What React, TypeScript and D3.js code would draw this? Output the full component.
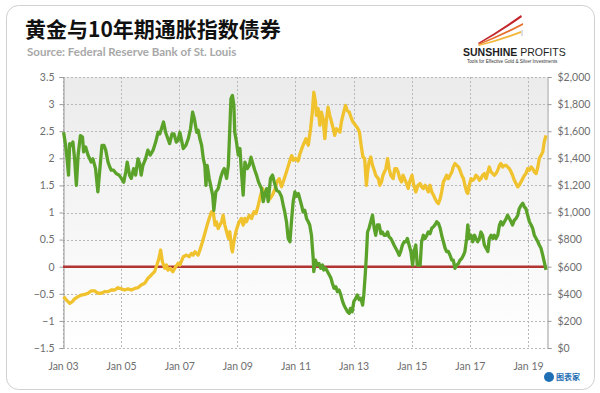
import React, { useEffect, useRef } from "react";
import * as d3 from "d3";

// 10-year TIPS yield (%), left axis. x = decimal year
const tipsYears = [
  2003.02, 2003.09, 2003.14, 2003.19, 2003.23, 2003.29, 2003.34, 2003.4, 2003.46, 2003.52, 2003.6, 2003.67,
  2003.71, 2003.78, 2003.86, 2003.97, 2004.03, 2004.12, 2004.2, 2004.26, 2004.34, 2004.41, 2004.47, 2004.55,
  2004.61, 2004.66, 2004.74, 2004.83, 2004.93, 2005.01, 2005.09, 2005.16, 2005.21, 2005.29, 2005.35, 2005.43,
  2005.5, 2005.58, 2005.64, 2005.69, 2005.75, 2005.84, 2005.92, 2006.0, 2006.1, 2006.19, 2006.27, 2006.33,
  2006.39, 2006.46, 2006.53, 2006.61, 2006.67, 2006.75, 2006.82, 2006.9, 2006.96,
  2007.02, 2007.14, 2007.23, 2007.31, 2007.39, 2007.46, 2007.52, 2007.6, 2007.65, 2007.71, 2007.77, 2007.83,
  2007.88, 2007.92, 2007.96, 2008.03, 2008.08, 2008.15, 2008.19, 2008.26, 2008.34, 2008.42, 2008.49, 2008.55,
  2008.63, 2008.69, 2008.74, 2008.78, 2008.83, 2008.88, 2008.91, 2008.97, 2009.03, 2009.09, 2009.14, 2009.2,
  2009.26, 2009.34, 2009.41, 2009.47, 2009.55, 2009.6, 2009.66, 2009.73, 2009.78, 2009.83, 2009.89, 2009.95,
  2010.01, 2010.06, 2010.14, 2010.21, 2010.27, 2010.35, 2010.44, 2010.52, 2010.58, 2010.63, 2010.69, 2010.75,
  2010.81, 2010.87, 2010.92, 2010.98, 2011.04,
  2011.1, 2011.21, 2011.26, 2011.32, 2011.38, 2011.44, 2011.49, 2011.55, 2011.61, 2011.63, 2011.69, 2011.75,
  2011.81, 2011.87, 2011.93, 2011.97, 2012.04, 2012.1, 2012.16, 2012.22, 2012.27, 2012.33, 2012.39, 2012.44,
  2012.5, 2012.56, 2012.62, 2012.67, 2012.73, 2012.79, 2012.85, 2012.89, 2012.95, 2013.01, 2013.08, 2013.13,
  2013.19, 2013.25, 2013.31, 2013.35, 2013.4, 2013.44, 2013.48, 2013.53, 2013.59, 2013.65, 2013.71, 2013.76,
  2013.82, 2013.88, 2013.94, 2013.99, 2014.05, 2014.11, 2014.17, 2014.22, 2014.28, 2014.34, 2014.39, 2014.45,
  2014.51, 2014.57, 2014.62, 2014.68, 2014.74, 2014.8, 2014.85, 2014.91, 2014.97, 2015.03, 2015.08, 2015.14,
  2015.19, 2015.24,
  2015.29, 2015.34, 2015.4, 2015.46, 2015.52, 2015.57, 2015.63, 2015.69, 2015.75, 2015.8, 2015.86, 2015.92,
  2015.98, 2016.03, 2016.09, 2016.15, 2016.2, 2016.26, 2016.32, 2016.38, 2016.43, 2016.49, 2016.55, 2016.61,
  2016.66, 2016.72, 2016.78, 2016.83, 2016.89, 2016.93, 2016.98, 2017.04, 2017.1, 2017.16, 2017.21, 2017.27,
  2017.33, 2017.38, 2017.44, 2017.5, 2017.56, 2017.62, 2017.67, 2017.73, 2017.79, 2017.84, 2017.9, 2017.96,
  2018.02, 2018.07, 2018.13, 2018.19, 2018.25, 2018.3, 2018.36, 2018.42, 2018.47, 2018.53, 2018.59, 2018.65,
  2018.7, 2018.76, 2018.82, 2018.88, 2018.93, 2018.99, 2019.05, 2019.11, 2019.16, 2019.22, 2019.28, 2019.34,
  2019.39, 2019.45, 2019.51, 2019.56, 2019.62,
];
const tipsValues = [
  2.48, 2.24, 1.99, 1.69, 2.27, 2.24, 2.3, 1.99, 1.5, 2.06, 2.42, 2.39,
  2.12, 2.21, 2.06, 1.93, 1.99, 1.81, 1.38, 1.75, 2.24, 2.24, 2.15, 1.93,
  1.84, 1.78, 1.78, 1.72, 1.69, 1.63, 1.56, 1.75, 1.93, 1.69, 1.63, 1.81,
  1.69, 1.99, 1.9, 1.69, 1.87, 1.99, 2.15, 2.06, 2.15, 2.3, 2.48, 2.45,
  2.55, 2.67, 2.48, 2.36, 2.27, 2.45, 2.45, 2.3, 2.33,
  2.48, 2.18, 2.24, 2.36, 2.55, 2.85, 2.73, 2.48, 2.52, 2.36, 2.24, 1.99,
  1.87, 1.5, 1.87, 1.63, 1.5, 1.32, 1.04, 1.38, 1.44, 1.63, 1.75, 1.81,
  1.63, 1.87, 2.55, 3.1, 3.16, 2.98, 2.48, 2.3, 2.06, 2.18, 1.75, 1.32,
  1.93, 1.81, 1.87, 2.02, 1.87, 1.78, 1.69, 1.56, 1.5, 1.44, 1.2, 1.35,
  1.44, 1.2, 1.63, 1.69, 1.56, 1.41, 1.38, 1.29, 1.13, 1.01, 0.83, 0.52,
  0.46, 0.89, 1.2, 1.38, 1.3,
  1.35, 1.13, 1.01, 1.04, 0.89, 0.83, 0.77, 0.58, 0.15, -0.09, 0.12, 0.03,
  0.06, -0.03, 0.03, -0.06, -0.03, -0.09, -0.15, -0.21, -0.31, -0.4, -0.37, -0.46,
  -0.43, -0.52, -0.64, -0.71, -0.77, -0.83, -0.86, -0.77, -0.83, -0.64, -0.58, -0.52,
  -0.61, -0.58, -0.71, -0.52, -0.15, 0.21, 0.64, 0.71, 0.83, 0.95, 0.71, 0.58,
  0.77, 0.77, 0.61, 0.64, 0.58, 0.58, 0.64, 0.55, 0.52, 0.46, 0.4, 0.34,
  0.28, 0.21, 0.28, 0.4, 0.46, 0.46, 0.52, 0.4, 0.28, 0.03, 0.28, 0.4,
  0.03, 0.03,
  0.03, 0.46, 0.58, 0.52, 0.58, 0.64, 0.61, 0.71, 0.74, 0.77, 0.83, 0.8,
  0.71, 0.58, 0.46, 0.34, 0.28, 0.28, 0.21, 0.12, 0.12, -0.03, 0.03, 0.06,
  0.12, 0.15, 0.21, 0.28, 0.52, 0.77, 0.52, 0.58, 0.46, 0.58, 0.52, 0.46,
  0.52, 0.64, 0.58, 0.4, 0.34, 0.28, 0.52, 0.58, 0.52, 0.58, 0.52, 0.58,
  0.77, 0.83, 0.77, 0.83, 0.89, 0.95, 0.89, 0.83, 0.77, 0.86, 0.89, 0.95,
  1.07, 1.13, 1.17, 1.1, 1.07, 0.95, 0.83, 0.77, 0.71, 0.58, 0.52, 0.46,
  0.4, 0.34, 0.21, 0.09, -0.06,
];

// gold price (USD/oz), right axis
const goldYears = [
  2003.02, 2003.11, 2003.23, 2003.32, 2003.4, 2003.52, 2003.63, 2003.75, 2003.86, 2003.97, 2004.09, 2004.2,
  2004.32, 2004.43, 2004.55, 2004.66, 2004.78, 2004.89, 2005.01, 2005.12, 2005.24, 2005.35, 2005.47, 2005.58,
  2005.69, 2005.81, 2005.92, 2006.04, 2006.15, 2006.23, 2006.3, 2006.36, 2006.42, 2006.5, 2006.56, 2006.61,
  2006.69, 2006.78, 2006.88, 2006.96,
  2007.02, 2007.14, 2007.25, 2007.34, 2007.42, 2007.48, 2007.54, 2007.65, 2007.73, 2007.8, 2007.88, 2007.96,
  2008.03, 2008.11, 2008.17, 2008.23, 2008.28, 2008.34, 2008.4, 2008.46, 2008.51, 2008.57, 2008.63, 2008.69,
  2008.74, 2008.8, 2008.83, 2008.88, 2008.95, 2009.0, 2009.06, 2009.14, 2009.2, 2009.26, 2009.31, 2009.41,
  2009.49, 2009.57, 2009.64, 2009.72, 2009.8, 2009.87, 2009.92, 2009.98, 2010.04, 2010.12, 2010.21, 2010.29,
  2010.37, 2010.44, 2010.52, 2010.6, 2010.69, 2010.79, 2010.87, 2010.93, 2011.0, 2011.09,
  2011.15, 2011.26, 2011.36, 2011.44, 2011.52, 2011.58, 2011.63, 2011.69, 2011.72, 2011.78, 2011.84, 2011.89,
  2011.95, 2012.01, 2012.07, 2012.12, 2012.18, 2012.24, 2012.3, 2012.35, 2012.41, 2012.47, 2012.53, 2012.58,
  2012.66, 2012.72, 2012.78, 2012.85, 2012.93, 2012.98, 2013.07, 2013.15, 2013.2, 2013.26, 2013.32, 2013.38,
  2013.44, 2013.48, 2013.53, 2013.59, 2013.65, 2013.71, 2013.76, 2013.85, 2013.9, 2013.96, 2014.01, 2014.11,
  2014.17, 2014.22, 2014.28, 2014.36, 2014.42, 2014.48, 2014.53, 2014.59, 2014.65, 2014.7, 2014.8, 2014.88,
  2014.93, 2015.01, 2015.07, 2015.14, 2015.22,
  2015.29, 2015.34, 2015.4, 2015.46, 2015.52, 2015.57, 2015.63, 2015.69, 2015.75, 2015.8, 2015.86, 2015.92,
  2015.98, 2016.03, 2016.09, 2016.15, 2016.2, 2016.26, 2016.32, 2016.38, 2016.43, 2016.49, 2016.55, 2016.61,
  2016.66, 2016.72, 2016.78, 2016.83, 2016.89, 2016.93, 2016.98, 2017.04, 2017.1, 2017.16, 2017.21, 2017.27,
  2017.33, 2017.38, 2017.44, 2017.5, 2017.56, 2017.62, 2017.67, 2017.73, 2017.79, 2017.84, 2017.9, 2017.96,
  2018.02, 2018.07, 2018.13, 2018.19, 2018.25, 2018.3, 2018.36, 2018.42, 2018.47, 2018.53, 2018.59, 2018.65,
  2018.7, 2018.76, 2018.82, 2018.88, 2018.93, 2018.99, 2019.05, 2019.11, 2019.16, 2019.22, 2019.28, 2019.34,
  2019.39, 2019.45, 2019.51, 2019.56, 2019.62,
];
const goldValues = [
  379, 355, 330, 342, 362, 379, 391, 396, 404, 421, 421, 404,
  404, 416, 416, 428, 428, 445, 436, 428, 436, 428, 440, 445,
  465, 477, 514, 539, 563, 612, 661, 723, 637, 588, 612, 575,
  588, 563, 600, 625,
  612, 674, 686, 674, 698, 686, 710, 686, 735, 784, 845, 907,
  956, 1005, 1005, 907, 931, 882, 907, 931, 980, 907, 858, 809,
  858, 735, 710, 784, 858, 894, 931, 956, 907, 956, 931, 980,
  956, 1005, 993, 1054, 1128, 1177, 1128, 1140, 1150, 1100, 1130, 1170,
  1230, 1250, 1190, 1240, 1300, 1370, 1420, 1385, 1400, 1380,
  1430, 1496, 1545, 1496, 1618, 1741, 1888, 1815, 1717, 1766, 1643, 1741,
  1692, 1545, 1692, 1778, 1717, 1668, 1618, 1569, 1618, 1606, 1594, 1668,
  1741, 1790, 1753, 1741, 1692, 1668, 1643, 1618, 1594, 1496, 1410, 1398,
  1201, 1299, 1373, 1410, 1348, 1312, 1275, 1250, 1201, 1226, 1275, 1324,
  1398, 1324, 1275, 1250, 1324, 1324, 1299, 1250, 1226, 1275, 1226, 1177,
  1226, 1275, 1201, 1152, 1201,
  1214, 1189, 1177, 1201, 1177, 1152, 1201, 1152, 1128, 1103, 1079, 1066,
  1103, 1152, 1226, 1250, 1275, 1250, 1275, 1299, 1336, 1361, 1348, 1336,
  1312, 1275, 1250, 1201, 1152, 1140, 1201, 1250, 1238, 1250, 1275, 1263,
  1238, 1250, 1275, 1287, 1250, 1299, 1336, 1299, 1287, 1275, 1287, 1312,
  1348, 1361, 1336, 1348, 1348, 1336, 1324, 1299, 1275, 1238, 1214, 1189,
  1201, 1226, 1250, 1275, 1287, 1324, 1312, 1336, 1324, 1299, 1287, 1336,
  1398, 1422, 1447, 1520, 1569,
];

const leftTicks = [3.5, 3, 2.5, 2, 1.5, 1, 0.5, 0, -0.5, -1, -1.5];
const rightTicks = [0, 200, 400, 600, 800, 1000, 1200, 1400, 1600, 1800, 2000];
const yearTicks = [2003, 2005, 2007, 2009, 2011, 2013, 2015, 2017, 2019];

const title = "黄金与10年期通胀指数债券";
const source = "Source: Federal Reserve Bank of St. Louis";

const W = 600;
const H = 393;
const plot = { left: 63, right: 547, top: 77, bottom: 348 };
const tickFont = "Lato, 'DejaVu Sans', sans-serif";

const App = () => {
  const ref = useRef<SVGSVGElement>(null);

  useEffect(() => {
    const svg = d3.select(ref.current);
    svg.selectAll("*").remove();

    const x = d3.scaleLinear().domain([2003, 2019.655]).range([plot.left, plot.right]);
    const yL = d3.scaleLinear().domain([-1.5, 3.5]).range([plot.bottom, plot.top]);
    const yR = d3.scaleLinear().domain([0, 2000]).range([plot.bottom, plot.top]);

    // card frame
    svg
      .append("rect")
      .attr("x", 6.5)
      .attr("y", 5.5)
      .attr("width", 588)
      .attr("height", 384)
      .attr("rx", 12)
      .attr("fill", "#fff")
      .attr("stroke", "#d0d0d0");

    // plot background, grey fading to white
    const grad = svg
      .append("defs")
      .append("linearGradient")
      .attr("id", "bg")
      .attr("x1", 0)
      .attr("y1", 0)
      .attr("x2", 0)
      .attr("y2", 1);
    grad.append("stop").attr("offset", "0%").attr("stop-color", "#ebebeb");
    grad.append("stop").attr("offset", "100%").attr("stop-color", "#ffffff");
    svg
      .append("rect")
      .attr("x", plot.left)
      .attr("y", plot.top)
      .attr("width", plot.right - plot.left)
      .attr("height", plot.bottom - plot.top)
      .attr("fill", "url(#bg)");

    // dashed grid
    const grid = svg.append("g").attr("stroke", "#b8b8b8").attr("stroke-dasharray", "2,2");
    leftTicks.forEach((t) => {
      const yy = Math.round(yL(t)) + 0.5;
      grid.append("line").attr("x1", plot.left).attr("x2", plot.right).attr("y1", yy).attr("y2", yy);
    });
    yearTicks.forEach((yr) => {
      const xx = Math.round(x(yr)) + 0.5;
      grid.append("line").attr("x1", xx).attr("x2", xx).attr("y1", plot.top).attr("y2", plot.bottom);
    });

    const styleAxis = (g: any) => {
      g.select(".domain").attr("stroke", "#9a9a9a");
      g.selectAll(".tick line").attr("stroke", "#9a9a9a");
      g.selectAll("text")
        .attr("fill", "#6e6e6e")
        .style("font-family", tickFont)
        .style("font-size", "10.5px");
    };

    // left axis
    svg
      .append("g")
      .attr("transform", `translate(${plot.left + 0.5},0)`)
      .call(d3.axisLeft(yL).tickValues(leftTicks).tickSize(4).tickPadding(5).tickFormat(d3.format("")))
      .call(styleAxis);

    // right axis
    svg
      .append("g")
      .attr("transform", `translate(${plot.right + 0.5},0)`)
      .call(
        d3
          .axisRight(yR)
          .tickValues(rightTicks)
          .tickSize(4)
          .tickPadding(6)
          .tickFormat((d) => "$" + d3.format(",")(d as number))
      )
      .call(styleAxis);

    // bottom labels
    svg
      .append("g")
      .attr("transform", `translate(0,${plot.bottom})`)
      .call(
        d3
          .axisBottom(x)
          .tickValues(yearTicks)
          .tickSize(0)
          .tickPadding(15)
          .tickFormat((d) => "Jan " + String(d).slice(2))
      )
      .call(styleAxis)
      .call((g) => g.select(".domain").remove());

    // zero line
    svg
      .append("line")
      .attr("x1", plot.left)
      .attr("x2", plot.right)
      .attr("y1", yL(0))
      .attr("y2", yL(0))
      .attr("stroke", "#b23434")
      .attr("stroke-width", 2.5);

    // gold
    const goldLine = d3
      .line<number>()
      .x((d, i) => x(goldYears[i]))
      .y((d) => yR(d));
    svg
      .append("path")
      .datum(goldValues)
      .attr("d", goldLine)
      .attr("fill", "none")
      .attr("stroke", "#f0c22e")
      .attr("stroke-width", 3.3)
      .attr("stroke-linejoin", "round");

    // TIPS
    const tipsLine = d3
      .line<number>()
      .x((d, i) => x(tipsYears[i]))
      .y((d) => yL(d));
    svg
      .append("path")
      .datum(tipsValues)
      .attr("d", tipsLine)
      .attr("fill", "none")
      .attr("stroke", "#5ba22a")
      .attr("stroke-width", 3.3)
      .attr("stroke-linejoin", "round");

    // titles
    svg
      .append("text")
      .attr("x", 25)
      .attr("y", 37)
      .text(title)
      .attr("fill", "#111")
      .style("font-family", "'Noto Sans CJK SC', sans-serif")
      .style("font-weight", 700)
      .style("font-size", "21px");
    svg
      .append("text")
      .attr("x", 27)
      .attr("y", 56)
      .text(source)
      .attr("fill", "#a8a8a8")
      .style("font-family", tickFont)
      .style("font-weight", 700)
      .style("font-size", "11.5px");

    // Sunshine Profits logo
    const logo = svg.append("g");
    const sw = [
      { c: "#c3262c", d: "M478,43 Q500,30 521,15 L522,17 Q501,32 479,44 Z" },
      { c: "#e66f2b", d: "M478,44 Q502,34 523,23 L523,25 Q502,36 479,45 Z" },
      { c: "#f2b73a", d: "M478,45 Q500,39 521,31 L521,33 Q500,41 479,46 Z" },
    ];
    sw.forEach((s) => logo.append("path").attr("d", s.d).attr("fill", s.c));
    logo.append("line").attr("x1", 522).attr("x2", 522).attr("y1", 30).attr("y2", 36).attr("stroke", "#bbb");
    const lt = logo
      .append("text")
      .attr("x", 463)
      .attr("y", 56)
      .style("font-family", "'Liberation Sans', Arial, sans-serif")
      .style("font-size", "10.5px")
      .attr("fill", "#1d1d1d");
    lt.append("tspan").text("SUNSHINE").style("font-weight", 700);
    lt.append("tspan").text(" PROFITS");
    logo
      .append("text")
      .attr("x", 467)
      .attr("y", 62.5)
      .text("Tools for Effective Gold & Silver Investments")
      .style("font-family", "'Liberation Sans', Arial, sans-serif")
      .style("font-size", "4.6px")
      .attr("fill", "#333");

    // small 图表家 mark
    const mark = svg.append("g");
    mark.append("circle").attr("cx", 549).attr("cy", 377).attr("r", 5).attr("fill", "#1f6fb5");
    mark
      .append("text")
      .attr("x", 556)
      .attr("y", 380)
      .text("图表家")
      .style("font-family", "'Noto Sans CJK SC', sans-serif")
      .style("font-size", "8px")
      .style("font-weight", 700)
      .attr("fill", "#1f6fb5");
  }, []);

  return <svg ref={ref} width={W} height={H} style={{ position: "absolute", left: 0, top: 0 }} />;
};

export default App;
